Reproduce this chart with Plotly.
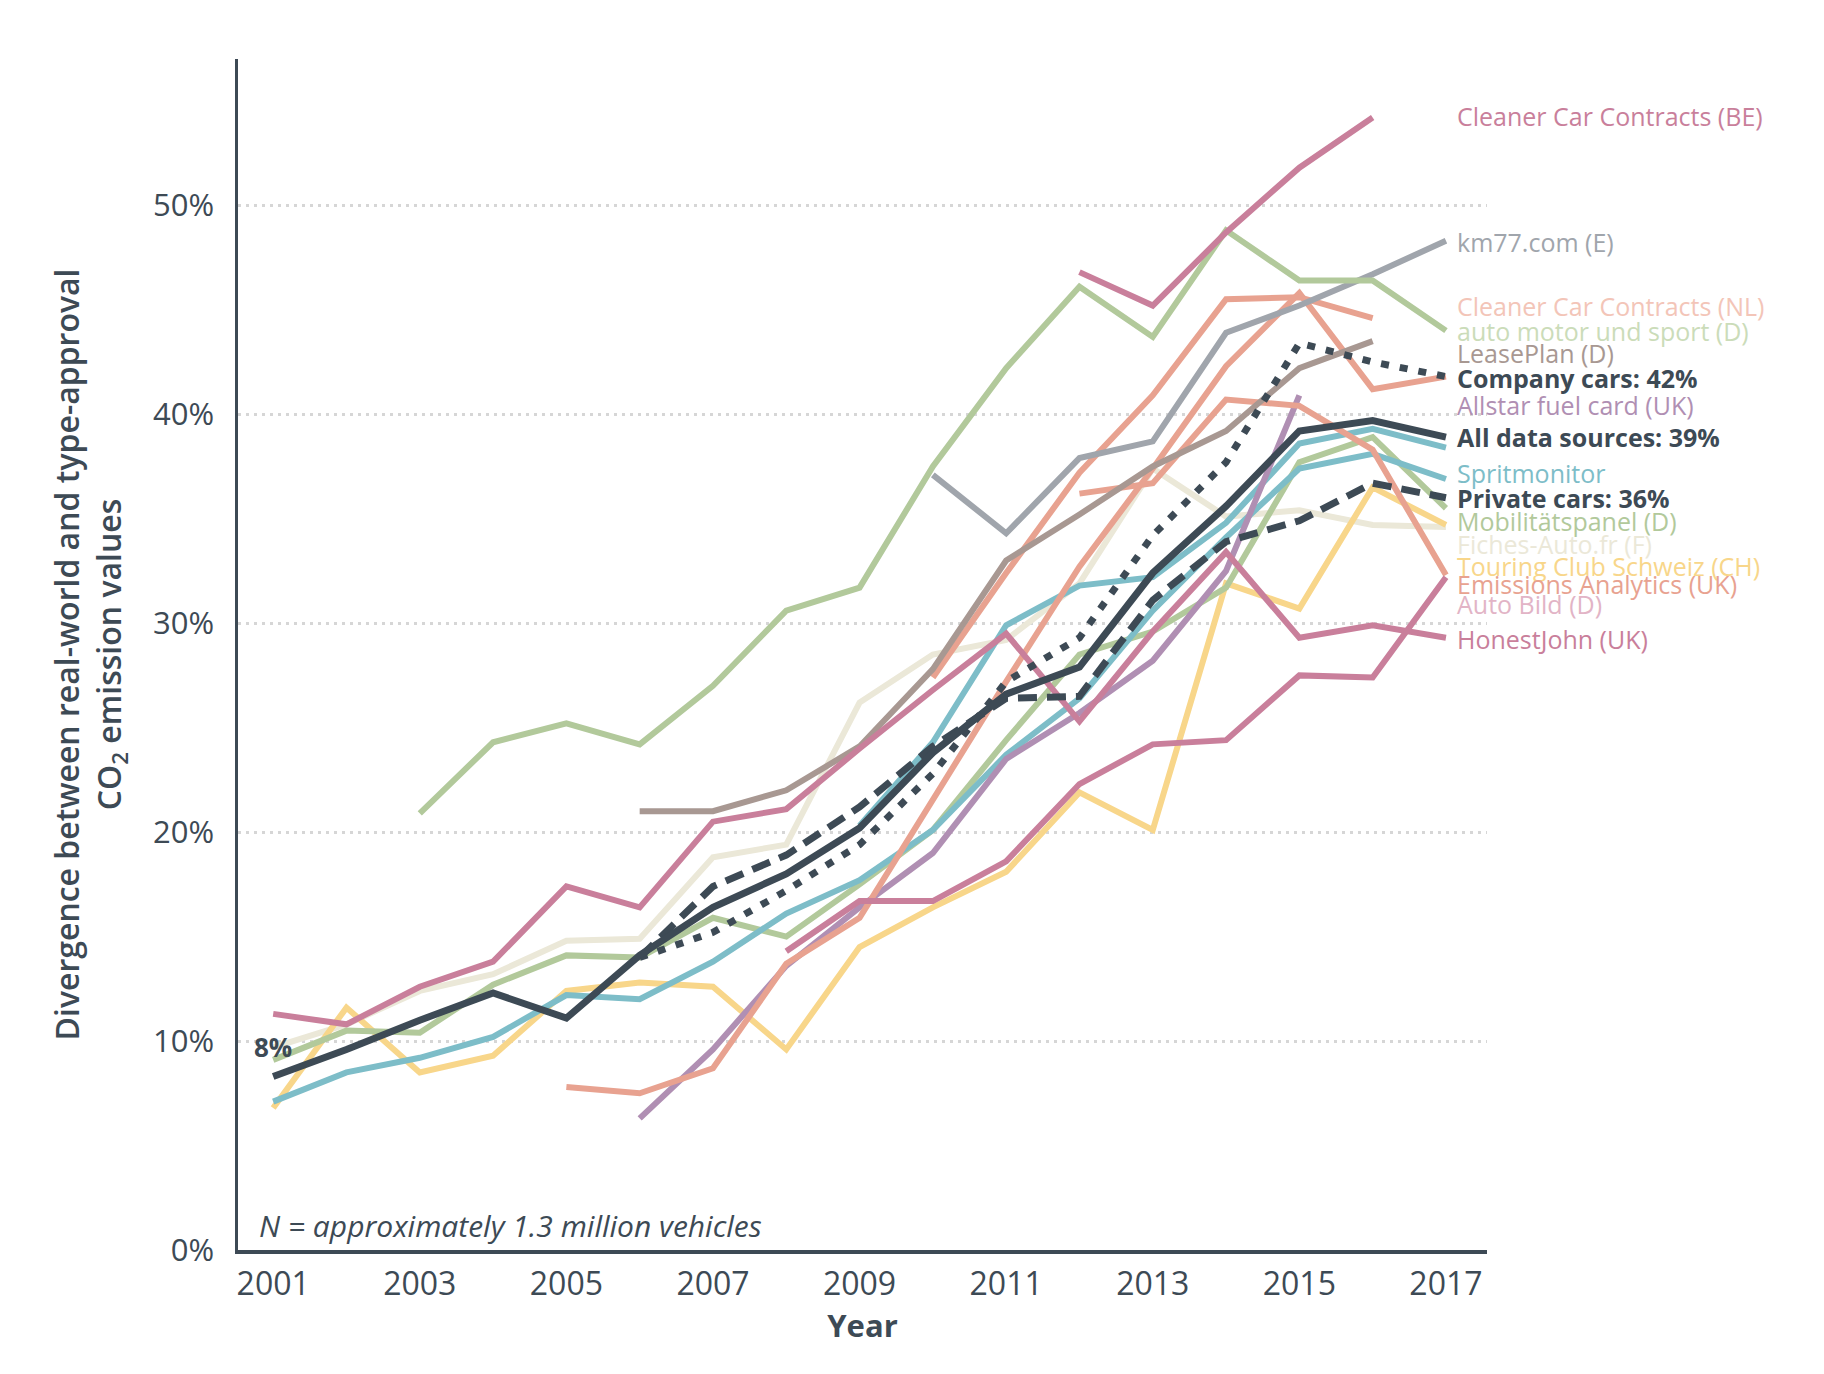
import plotly.graph_objects as go

years = list(range(2001, 2018))
N = None

# ---- data (divergence in %, None = no data) ----
honestjohn = [11.3, 10.8, 12.6, 13.8, 17.4, 16.4, 20.5, 21.1, 24.0, 26.8, 29.5, 25.3, 29.6, 33.4, 29.3, 29.9, 29.3]
auto_bild = [N, N, N, N, N, N, N, 14.3, 16.7, 16.7, 18.6, 22.3, 24.2, 24.4, 27.5, 27.4, 32.2]
ccc_be = [N, N, N, N, N, N, N, N, N, N, N, 46.8, 45.2, 48.7, 51.8, 54.2, N]
km77 = [N, N, N, N, N, N, N, N, N, 37.1, 34.3, 37.9, 38.7, 43.9, 45.2, 46.7, 48.3]
ams = [N, N, 20.9, 24.3, 25.2, 24.2, 27.0, 30.6, 31.7, 37.5, 42.2, 46.1, 43.7, 48.8, 46.4, 46.4, 44.0]
leaseplan = [N, N, N, N, N, 21.0, 21.0, 22.0, 24.1, 27.8, 33.0, 35.2, 37.5, 39.2, 42.2, 43.5, N]
ccc_nl_a = [N, N, N, N, N, N, N, N, N, 27.4, 32.4, 37.2, 40.9, 45.5, 45.6, 44.6, N]
ccc_nl_b = [N, N, N, N, 7.8, 7.5, 8.7, 13.7, 15.9, 21.6, 27.2, 32.7, 37.4, 42.3, 45.8, 41.2, 41.8]
emissions_analytics = [N, N, N, N, N, N, N, N, N, N, N, 36.2, 36.7, 40.7, 40.4, 38.3, 32.3]
allstar = [N, N, N, N, N, 6.3, 9.6, 13.6, 16.4, 19.0, 23.5, 25.7, 28.2, 32.5, 40.9, N, N]
spritmonitor_a = [7.1, 8.5, 9.2, 10.2, 12.2, 12.0, 13.8, 16.1, 17.7, 20.1, 23.7, 26.4, 30.6, 34.1, 37.4, 38.1, 36.9]
spritmonitor_b = [N, N, N, N, N, N, N, N, 20.3, 24.3, 29.9, 31.8, 32.2, 34.8, 38.6, 39.3, 38.4]
mobilitaetspanel = [9.1, 10.5, 10.4, 12.7, 14.1, 14.0, 15.9, 15.0, 17.5, 20.1, 24.4, 28.5, 29.6, 31.7, 37.7, 38.9, 35.5]
fiches_auto = [9.7, 10.8, 12.4, 13.2, 14.8, 14.9, 18.8, 19.4, 26.2, 28.5, 29.2, 31.9, 37.4, 35.1, 35.4, 34.7, 34.6]
tcs = [6.8, 11.6, 8.5, 9.3, 12.4, 12.8, 12.6, 9.6, 14.5, 16.4, 18.1, 21.9, 20.1, 31.9, 30.7, 36.5, 34.7]
company_cars = [N, N, N, N, N, 14.0, 15.2, 17.2, 19.4, 22.8, 27.2, 29.3, 34.2, 37.7, 43.4, 42.5, 41.8]
private_cars = [N, N, N, N, N, 14.0, 17.4, 18.9, 21.2, 24.1, 26.4, 26.5, 31.1, 33.9, 34.9, 36.7, 36.0]
all_sources = [8.3, 9.6, 11.0, 12.3, 11.1, 14.1, 16.4, 18.0, 20.2, 23.8, 26.6, 27.9, 32.4, 35.6, 39.2, 39.7, 38.9]

y_ticks = [0, 10, 20, 30, 40, 50]
y_tick_labels = ["0%", "10%", "20%", "30%", "40%", "50%"]
x_ticks = list(range(2001, 2018, 2))
x_tick_labels = [str(v) for v in x_ticks]

# end labels
label_texts = ["Cleaner Car Contracts (BE)", "km77.com (E)", "Cleaner Car Contracts (NL)",
               "auto motor und sport (D)", "LeasePlan (D)", "Company cars: 42%",
               "Allstar fuel card (UK)", "All data sources: 39%", "Spritmonitor",
               "Private cars: 36%", "Mobilitätspanel (D)", "Fiches-Auto.fr (F)",
               "Touring Club Schweiz (CH)", "Emissions Analytics (UK)", "Auto Bild (D)",
               "HonestJohn (UK)"]
label_y = [54.26, 48.22, 45.16, 43.96, 42.93, 41.73, 40.45, 38.9, 37.21, 35.98,
           34.91, 33.79, 32.74, 31.88, 30.92, 29.23]
label_colors = ["#c97f9b", "#a0a5ac", "#f3c5b8", "#cbdcb9", "#a89892", "#3d4a55",
                "#b08fb3", "#3d4a55", "#7dbdc8", "#3d4a55", "#b2c99b", "#ebe8d8",
                "#f8d68a", "#e8a290", "#e2b4c6", "#c97f9b"]
label_bold = [False, False, False, False, False, True, False, True, False, True,
              False, False, False, False, False, False]

DARK = "#3d4a55"
FONT = "Open Sans"

fig = go.Figure()

colored = [
    (fiches_auto, "#ebe8d8"),
    (tcs, "#f8d68a"),
    (mobilitaetspanel, "#b2c99b"),
    (spritmonitor_a, "#7dbdc8"),
    (spritmonitor_b, "#7dbdc8"),
    (allstar, "#b08fb3"),
    (ccc_nl_b, "#e8a290"),
    (ccc_nl_a, "#e8a290"),
    (emissions_analytics, "#e8a290"),
    (leaseplan, "#a89892"),
    (km77, "#a0a5ac"),
    (ams, "#b2c99b"),
    (auto_bild, "#c97f9b"),
    (honestjohn, "#c97f9b"),
    (ccc_be, "#c97f9b"),
]
for vals, col in colored:
    fig.add_trace(go.Scatter(x=years, y=vals, mode="lines", connectgaps=False,
                             line=dict(color=col, width=6), hoverinfo="skip",
                             showlegend=False))

fig.add_trace(go.Scatter(x=years, y=private_cars, mode="lines",
                         line=dict(color=DARK, width=7, dash="19px,10px"),
                         showlegend=False))
fig.add_trace(go.Scatter(x=years, y=company_cars, mode="lines",
                         line=dict(color=DARK, width=7, dash="8px,11px"),
                         showlegend=False))
fig.add_trace(go.Scatter(x=years, y=all_sources, mode="lines",
                         line=dict(color=DARK, width=7),
                         showlegend=False))

for t, yv, c, b in zip(label_texts, label_y, label_colors, label_bold):
    fig.add_annotation(x=2017.12, y=yv, xref="x", yref="y", text=t, showarrow=False,
                       xanchor="left", yanchor="middle",
                       font=dict(family=FONT, size=25, color=c,
                                 weight=700 if b else 400))

fig.add_annotation(x=2001, y=9.7, xref="x", yref="y", text="8%", showarrow=False,
                   xanchor="center", yanchor="middle",
                   font=dict(family=FONT, size=26, color=DARK, weight=700))
fig.add_annotation(x=2000.78, y=1.15, xref="x", yref="y",
                   text="<i>N = approximately 1.3 million vehicles</i>", showarrow=False,
                   xanchor="left", yanchor="middle",
                   font=dict(family=FONT, size=30, color=DARK))
fig.add_annotation(x=-0.1185, y=0.5, xref="paper", yref="paper",
                   text="Divergence between real-world and type-approval<br>CO<sub>2</sub> emission values",
                   showarrow=False, textangle=-90, xanchor="center", yanchor="middle",
                   font=dict(family=FONT, size=32, color=DARK, weight=600))

fig.update_layout(
    width=1824, height=1374,
    margin=dict(l=238, r=337, t=59, b=124),
    plot_bgcolor="white", paper_bgcolor="white",
    font=dict(family=FONT, color=DARK),
    xaxis=dict(range=[2000.52, 2017.56], tickmode="array", tickvals=x_ticks,
               ticktext=x_tick_labels, showgrid=False, zeroline=False,
               showline=True, linecolor=DARK, linewidth=4,
               ticks="outside", ticklen=3, tickcolor="rgba(0,0,0,0)",
               tickfont=dict(family=FONT, size=32, color=DARK),
               title=dict(text="Year", font=dict(family=FONT, size=31, color=DARK, weight=700),
                          standoff=12)),
    yaxis=dict(range=[0, 57], tickmode="array", tickvals=y_ticks, ticktext=y_tick_labels,
               showgrid=True, gridcolor="#d6d6d6", gridwidth=3, griddash="3px,5px",
               zeroline=False, showline=True, linecolor=DARK, linewidth=2.5,
               ticks="outside", ticklen=15, tickcolor="rgba(0,0,0,0)",
               tickfont=dict(family=FONT, size=31, color=DARK)),
)

fig.write_html("out.html", config={"displayModeBar": False},
               post_script="document.body.style.margin='0';")
